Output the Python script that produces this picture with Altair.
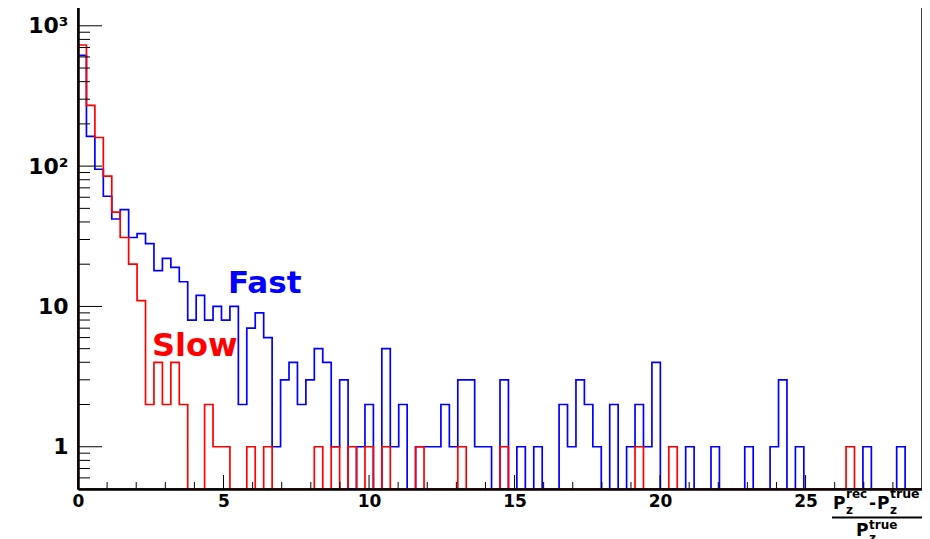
import altair as alt
import pandas as pd

# ---------------- data ----------------
BIN_WIDTH = 0.29
X_MAX = 29.0
Y_MIN = 0.5
Y_MAX = 1384.0

slow_counts = [730, 271, 160, 85, 47, 31, 20, 11, 2, 4,
               2, 4, 2, 0, 0, 2, 1, 1, 0, 0,
               1, 0, 1, 0, 0, 0, 0, 0, 1, 0,
               1, 0, 1, 0, 1, 0, 1, 0, 0, 0,
               1, 0, 0, 0, 0, 1, 0, 0, 0, 0,
               1, 0, 0, 0, 0, 0, 0, 0, 0, 0,
               0, 0, 0, 0, 0, 0, 1, 0, 0, 0,
               1, 0, 0, 0, 0, 0, 0, 0, 0, 0,
               0, 0, 0, 0, 0, 0, 0, 0, 0, 0,
               0, 1, 0, 0, 0, 0, 0, 0, 0, 0]

fast_counts = [615, 163, 95, 61, 42, 49, 31, 33, 28, 18,
               22, 19, 15, 8, 12, 8, 10, 8, 10, 2,
               7, 9, 6, 1, 3, 4, 2, 3, 5, 4,
               1, 3, 0, 1, 2, 0, 5, 1, 2, 0,
               1, 1, 1, 2, 1, 3, 3, 1, 1, 0,
               3, 0, 1, 0, 1, 0, 0, 2, 1, 3,
               2, 1, 0, 2, 0, 1, 2, 1, 4, 0,
               0, 0, 1, 0, 0, 1, 0, 0, 0, 1,
               0, 0, 1, 3, 0, 1, 0, 0, 0, 0,
               0, 0, 0, 1, 0, 0, 0, 1, 0, 0]

x_major_ticks = [0, 5, 10, 15, 20, 25]
x_minor_ticks = [v for v in range(1, 29) if v % 5 != 0]
y_major_ticks = [1, 10, 100, 1000]
y_minor_ticks = [0.6, 0.7, 0.8, 0.9] + [m * 10 ** k for k in range(0, 3) for m in range(2, 10)]

FONT = "DejaVu Sans"
W, H = 844, 483
TOP = -2


def outline(counts, name):
    rows = [{"x": 0.0, "y": Y_MIN, "series": name, "order": 0}]
    for i, c in enumerate(counts):
        rows.append({"x": round(i * BIN_WIDTH, 4), "y": c if c > 0 else Y_MIN,
                     "series": name, "order": i + 1})
    last = counts[-1] if counts[-1] > 0 else Y_MIN
    rows.append({"x": X_MAX, "y": last, "series": name, "order": len(counts) + 1})
    return pd.DataFrame(rows)


fast_df = outline(fast_counts, "Fast")
slow_df = outline(slow_counts, "Slow")

xscale = alt.Scale(domain=[0, X_MAX], nice=False, zero=False)
yscale = alt.Scale(type="log", domain=[Y_MIN, Y_MAX], nice=False)

x_axis = alt.Axis(values=x_major_ticks, ticks=False, grid=False, title=None,
                  labelFont=FONT, labelFontWeight="bold", labelFontSize=17,
                  labelPadding=4, labelColor="black", domainColor="black",
                  domainWidth=2.5, format="d", labelFlush=False, zindex=1)
y_axis = alt.Axis(values=y_major_ticks, ticks=False, grid=False, title=None,
                  labelExpr="datum.value >= 1000 ? '10\u00b3' : datum.value >= 100 ? '10\u00b2' : datum.value >= 10 ? '10' : '1'",
                  labelFont=FONT, labelFontWeight="bold", labelFontSize=22,
                  labelPadding=10, labelColor="black", domainColor="black",
                  domainWidth=2.5, labelFlush=False, zindex=1)

fast_line = alt.Chart(fast_df).mark_line(
    interpolate="step-after", color="#0000ff", strokeWidth=1.7
).encode(
    x=alt.X("x:Q", scale=xscale, axis=x_axis),
    y=alt.Y("y:Q", scale=yscale, axis=y_axis),
    order="order:Q",
)

slow_line = alt.Chart(slow_df).mark_line(
    interpolate="step-after", color="#ff0000", strokeWidth=1.7
).encode(
    x=alt.X("x:Q", scale=xscale, axis=x_axis),
    y=alt.Y("y:Q", scale=yscale, axis=y_axis),
    order="order:Q",
)


def yticks(vals, length):
    return alt.Chart(pd.DataFrame({"y": vals})).mark_rule(color="black", strokeWidth=1).encode(
        y=alt.Y("y:Q", scale=yscale, axis=y_axis),
        x=alt.value(0), x2=alt.value(length))


def xticks(vals, length):
    return alt.Chart(pd.DataFrame({"x": vals})).mark_rule(color="black", strokeWidth=1).encode(
        x=alt.X("x:Q", scale=xscale, axis=x_axis),
        y=alt.value(H), y2=alt.value(H - length))


def label(text, x, y, size, color="black", font=FONT):
    return alt.Chart(pd.DataFrame({"t": [text]})).mark_text(
        font=font, fontWeight="bold", fontSize=size, color=color,
        align="left", baseline="alphabetic"
    ).encode(text="t:N", x=alt.value(x), y=alt.value(y - TOP))


frac_bar = alt.Chart(pd.DataFrame({"a": [0]})).mark_rule(color="black", strokeWidth=2).encode(
    x=alt.value(754), x2=alt.value(846), y=alt.value(509.5 - TOP))

layers = [
    fast_line, slow_line,
    yticks(y_major_ticks, 24), yticks(y_minor_ticks, 12),
    xticks(x_major_ticks, 14), xticks(x_minor_ticks, 7),
    label("Fast", 150, 285, 31, "#0000ff"),
    label("Slow", 74, 348, 32, "#ff0000"),
    # axis title: (P_z^rec - P_z^true) / P_z^true
    label("P", 755, 501, 17),
    label("rec", 768, 490, 12),
    label("z", 768, 506, 12),
    label("-", 791, 501, 17),
    label("P", 799, 501, 17),
    label("true", 812, 490, 12.5),
    label("z", 812, 506, 12),
    frac_bar,
    label("P", 778, 528, 17),
    label("true", 791, 521, 12),
    label("z", 791, 534, 12),
]

chart = alt.layer(*layers).properties(
    width=W, height=H,
    autosize=alt.AutoSizeParams(type="none"),
    padding={"left": 70, "top": TOP, "right": 0, "bottom": 50},
).configure_view(stroke="black", strokeWidth=1.5)

chart.save("out.html", embed_options={"renderer": "svg", "actions": False})
